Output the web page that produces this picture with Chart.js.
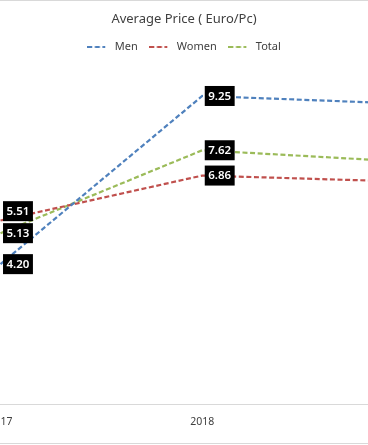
<!DOCTYPE html>
<html><head><meta charset="utf-8">
<script src="https://cdn.jsdelivr.net/npm/chart.js@4/dist/chart.umd.min.js"></script>
<style>
html,body{margin:0;padding:0;background:#fff;overflow:hidden;width:368px;height:445px;}
#frame{position:absolute;left:-1px;top:0;width:370px;height:442px;border-top:1px solid #d9d9d9;border-bottom:1px solid #d9d9d9;}
#wrap{position:absolute;left:-60px;top:0;width:488px;height:445px;}
</style></head><body>
<div id="frame"></div>
<div id="wrap"><canvas id="c"></canvas></div>
<script>
const years = ['2017', '2018', '2019'];
const men = [4.20, 9.25, 9.02];
const women = [5.51, 6.86, 6.68];
const total = [5.13, 7.62, 7.28];
const seriesNames = ['Men', 'Women', 'Total'];
const titleText = 'Average Price ( Euro/Pc)';

const FONT = '"Noto Sans", "Open Sans", sans-serif';
const DASH = [5, 2.6];

function legendLine(color) {
  const c = document.createElement('canvas');
  c.width = 22; c.height = 4;
  const g = c.getContext('2d');
  g.strokeStyle = color; g.lineWidth = 2.2; g.setLineDash(DASH);
  g.beginPath(); g.moveTo(0, 2); g.lineTo(18, 2); g.stroke();
  return c;
}

const legendSpacer = {
  id: 'legendSpacer',
  afterInit(chart) {
    const lg = chart.legend;
    if (!lg) return;
    const orig = lg.fit;
    lg.fit = function () { orig.call(this); this.height += 8.5; };
  }
};

const boxLabels = {
  id: 'boxLabels',
  afterDatasetsDraw(chart) {
    const ctx = chart.ctx;
    ctx.save();
    ctx.font = '600 11.5px ' + FONT;
    const n = chart.data.labels.length;
    const h = 20, gap = 2;
    for (let i = 0; i < n; i++) {
      const items = [];
      chart.data.datasets.forEach((ds, di) => {
        const el = chart.getDatasetMeta(di).data[i];
        if (!el) return;
        const text = ds.data[i].toFixed(2);
        const w = ctx.measureText(text).width + 7;
        items.push({x: el.x + 2.5, y: el.y, w, text});
      });
      items.sort((a, b) => b.y - a.y);
      let prevTop = Infinity;
      items.forEach(it => {
        let top = it.y - h / 2;
        if (top + h > prevTop - gap) top = prevTop - gap - h;
        it.top = top; prevTop = top;
      });
      items.forEach(it => {
        ctx.fillStyle = '#000';
        ctx.fillRect(it.x, it.top, it.w, h);
        ctx.fillStyle = '#fff';
        ctx.textAlign = 'center';
        ctx.textBaseline = 'middle';
        ctx.fillText(it.text, it.x + it.w / 2, it.top + h / 2 + 0.5);
      });
    }
    ctx.restore();
  }
};

const mk = (label, data, color) => ({
  label, data,
  borderColor: color, backgroundColor: color,
  borderWidth: 2.2, borderDash: DASH,
  pointRadius: 0, pointStyle: legendLine(color),
  tension: 0, fill: false
});

new Chart(document.getElementById('c'), {
  type: 'line',
  data: {
    labels: years,
    datasets: [
      mk(seriesNames[0], men, '#4F81BD'),
      mk(seriesNames[1], women, '#C0504D'),
      mk(seriesNames[2], total, '#9BBB59')
    ]
  },
  options: {
    responsive: true, maintainAspectRatio: false, animation: false,
    layout: {padding: {left: 0, right: 0, top: 0, bottom: 4.4}},
    plugins: {
      title: {display: true, text: titleText, color: '#404040',
        font: {family: FONT, size: 13, weight: 'normal'}, padding: {top: 11, bottom: 3.3}},
      legend: {display: true, position: 'top',
        labels: {usePointStyle: true, pointStyleWidth: 22,
          color: '#404040', font: {family: FONT, size: 11}, padding: 11.6}},
      tooltip: {enabled: false}
    },
    scales: {
      x: {
        type: 'linear', min: 2016.7, max: 2019.1,
        grid: {display: false, drawTicks: false},
        border: {display: true, color: '#d9d9d9', width: 1},
        ticks: {stepSize: 1, includeBounds: false, color: '#404040',
          font: {family: FONT, size: 10.5}, padding: 12, maxRotation: 0, autoSkip: false,
          callback: v => String(v)}
      },
      y: {display: false, min: 0, max: 10}
    }
  },
  plugins: [boxLabels, legendSpacer]
});
</script>
</body></html>
